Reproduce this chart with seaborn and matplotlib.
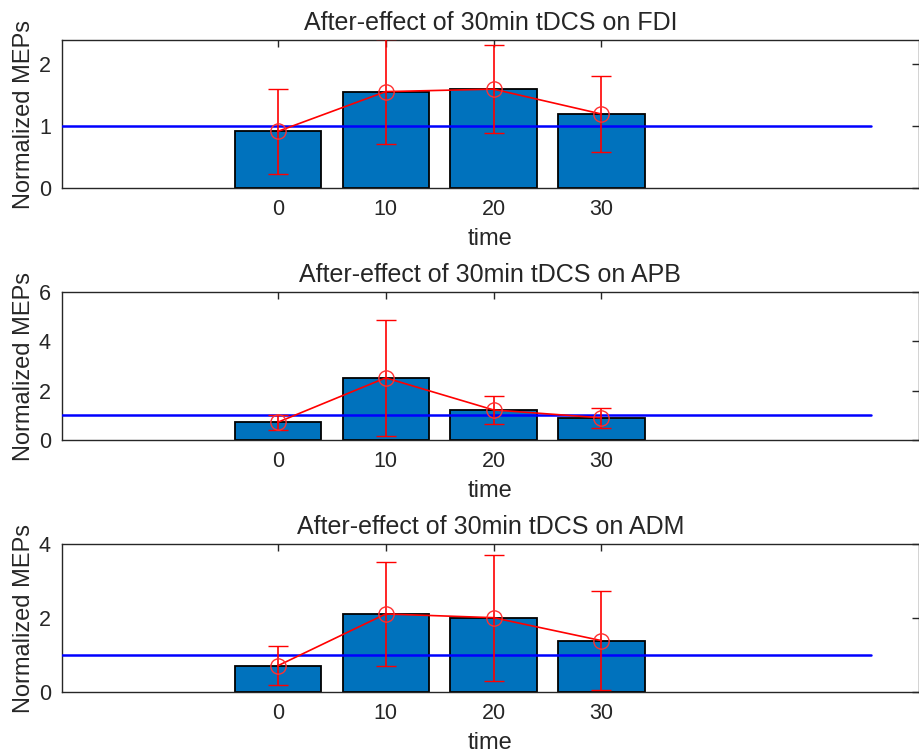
import seaborn as sns
import matplotlib.pyplot as plt

times = [0, 10, 20, 30]
muscles = ['FDI', 'APB', 'ADM']

# bar heights / means and error half-widths
fdi_mean = [0.91, 1.55, 1.59, 1.19]
fdi_err = [0.69, 0.84, 0.71, 0.61]
apb_mean = [0.72, 2.52, 1.22, 0.90]
apb_err = [0.30, 2.36, 0.56, 0.40]
adm_mean = [0.71, 2.11, 2.01, 1.39]
adm_err = [0.53, 1.41, 1.70, 1.33]

ylims = [2.38, 6, 4]
yticks = [[0, 1, 2], [0, 2, 4, 6], [0, 2, 4]]
baseline_x = [-20, 55]

sns.set_style('white')
plt.rcParams['font.family'] = ['Liberation Sans', 'DejaVu Sans']
txt = '#262626'

fig = plt.figure(figsize=(9.19, 7.55), dpi=100)
bottoms = [0.751, 0.4172, 0.0834]
means = [fdi_mean, apb_mean, adm_mean]
errs = [fdi_err, apb_err, adm_err]

for i in range(3):
    ax = fig.add_axes([0.0675, bottoms[i], 0.932, 0.196])
    sns.barplot(x=times, y=means[i], native_scale=True, width=0.8,
                color='#0072BD', saturation=1, edgecolor='black',
                linewidth=1.3, errorbar=None, ax=ax, zorder=2)
    ax.plot(baseline_x, [1, 1], color='blue', lw=1.8, zorder=3)
    ax.errorbar(times, means[i], yerr=errs[i], fmt='-o', color='red',
                lw=1.2, ms=11, mfc='none', mec='#ff3030', mew=1.0,
                capsize=7, capthick=1.1, zorder=4)
    ax.set_xlim(-20, 59.4)
    ax.set_ylim(0, ylims[i])
    ax.set_xticks(times)
    ax.set_xticklabels([str(t) for t in times])
    ax.set_yticks(yticks[i])
    ax.tick_params(direction='in', length=5, width=1, colors=txt,
                   top=True, right=True, labelsize=15.5, pad=8)
    for s in ax.spines.values():
        s.set_color(txt)
        s.set_linewidth(1.0)
        s.set_visible(True)
    ax.set_xlabel('time', color=txt, fontsize=17, labelpad=6)
    ax.set_ylabel('Normalized MEPs', color=txt, fontsize=17, labelpad=3)
    ax.set_title('After-effect of 30min tDCS on ' + muscles[i], color=txt,
                 fontsize=18, pad=7)

fig.savefig('out.png', dpi=100)
